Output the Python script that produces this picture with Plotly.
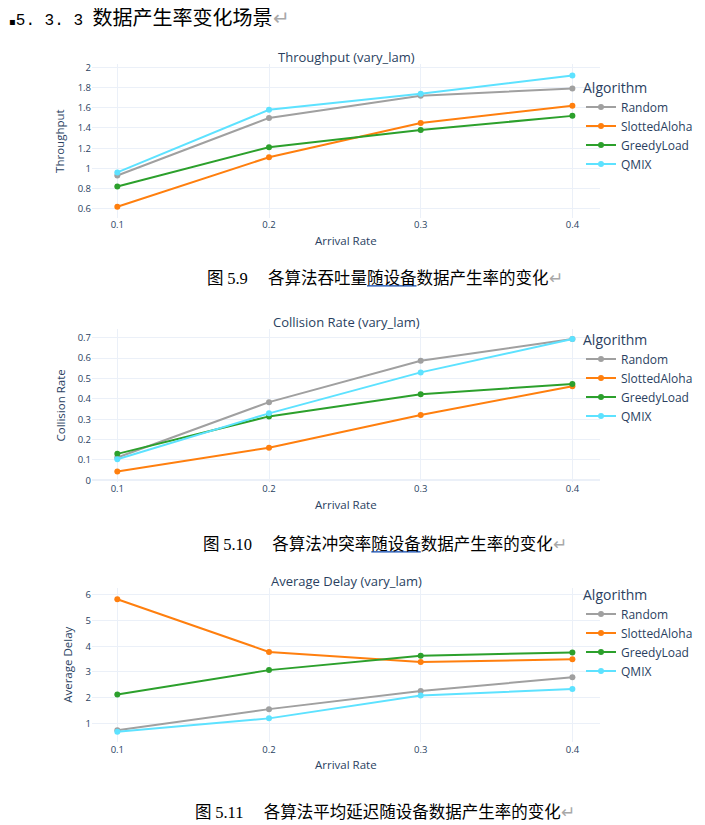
import plotly.graph_objects as go

# the page puts the plot 8px in from the top-left corner of the window
OFF = 8
W, H = 705 - OFF, 825 - OFF

arrival_rate = [0.1, 0.2, 0.3, 0.4]
algorithms = ["Random", "SlottedAloha", "GreedyLoad", "QMIX"]
algo_colors = ["#A0A0A0", "#FF7F0E", "#2CA02C", "#5DE2FF"]

# throughput per algorithm (same order as `algorithms`)
throughput_random = [0.93, 1.50, 1.72, 1.79]
throughput_slotted = [0.62, 1.11, 1.45, 1.62]
throughput_greedy = [0.82, 1.21, 1.38, 1.52]
throughput_qmix = [0.96, 1.58, 1.74, 1.92]

collision_random = [0.112, 0.384, 0.587, 0.694]
collision_slotted = [0.044, 0.160, 0.321, 0.462]
collision_greedy = [0.130, 0.314, 0.423, 0.473]
collision_qmix = [0.104, 0.329, 0.530, 0.694]

delay_random = [0.73, 1.55, 2.26, 2.79]
delay_slotted = [5.83, 3.78, 3.39, 3.49]
delay_greedy = [2.12, 3.07, 3.63, 3.76]
delay_qmix = [0.67, 1.19, 2.08, 2.33]

heading_num = "5. 3. 3 "
heading_cn = "数据产生率变化场景"
captions = [
    ("5.9", "各算法吞吐量", "随设备", "数据产生率的变化"),
    ("5.10", "各算法冲突率", "随设备", "数据产生率的变化"),
    ("5.11", "各算法平均延迟", "", "随设备数据产生率的变化"),
]

INK = "#2a3f5f"

# page geometry in window pixels: plot area top/bottom, legend top, caption y
panels = [
    dict(title="Throughput (vary_lam)", ytitle="Throughput",
         series=[throughput_random, throughput_slotted, throughput_greedy, throughput_qmix],
         top=61.7, bottom=216.7, yrange=[0.512, 2.032], dtick=0.2,
         ytitle_x=60, leg_top=72, cap_y=276.7),
    dict(title="Collision Rate (vary_lam)", ytitle="Collision Rate",
         series=[collision_random, collision_slotted, collision_greedy, collision_qmix],
         top=329.3, bottom=483.5, yrange=[-0.0073, 0.7423], dtick=0.1,
         ytitle_x=60, leg_top=326.5, cap_y=545),
    dict(title="Average Delay (vary_lam)", ytitle="Average Delay",
         series=[delay_random, delay_slotted, delay_greedy, delay_qmix],
         top=590.7, bottom=746.5, yrange=[0.259, 6.27], dtick=1,
         ytitle_x=66.7, leg_top=584, cap_y=815.7),
]
PLOT_L, PLOT_R = 92, 600
XRANGE = [0.0833, 0.4182]


def fx(p):
    return (p - OFF) / W


def fy(p):
    return 1 - (p - OFF) / H


fig = go.Figure()
annotations = []
layout = {}

for i, p in enumerate(panels):
    n = "" if i == 0 else str(i + 1)
    for name, vals, color in zip(algorithms, p["series"], algo_colors):
        fig.add_trace(go.Scatter(
            x=arrival_rate, y=vals, name=name, mode="lines+markers",
            line=dict(color=color, width=2), marker=dict(size=6, color=color),
            xaxis=f"x{n}", yaxis=f"y{n}", legend=f"legend{n}",
        ))
    layout[f"xaxis{n}"] = dict(
        domain=[fx(PLOT_L), fx(PLOT_R)], anchor=f"y{n}", range=XRANGE,
        tick0=0.1, dtick=0.1, tickformat=".1f", showgrid=True,
        gridcolor="#EBF0F8", zeroline=False, showline=False,
        tickfont=dict(size=9.5, color=INK),
    )
    layout[f"yaxis{n}"] = dict(
        domain=[fy(p["bottom"]), fy(p["top"])], anchor=f"x{n}", range=p["yrange"],
        dtick=p["dtick"], showgrid=True, gridcolor="#EBF0F8",
        zeroline=True, zerolinecolor="#EBF0F8", zerolinewidth=2, showline=False,
        tickfont=dict(size=9.5, color=INK),
    )
    layout[f"legend{n}"] = dict(
        x=fx(581), xanchor="left", y=fy(p["leg_top"]), yanchor="top",
        title=dict(text="Algorithm", font=dict(size=14, color=INK)),
        font=dict(size=12, color=INK), bgcolor="rgba(0,0,0,0)",
    )
    mid = (PLOT_L + PLOT_R) / 2
    annotations += [
        dict(text=p["title"], x=fx(mid), y=fy(p["top"] - 7.4), xref="paper", yref="paper",
             showarrow=False, xanchor="center", yanchor="middle",
             font=dict(size=13, color=INK)),
        dict(text="Arrival Rate", x=fx(mid), y=fy(p["bottom"] + 22.6), xref="paper", yref="paper",
             showarrow=False, xanchor="center", yanchor="middle",
             font=dict(size=11.5, color=INK)),
        dict(text=p["ytitle"], x=fx(p["ytitle_x"]), y=fy((p["top"] + p["bottom"]) / 2),
             xref="paper", yref="paper", showarrow=False, textangle=-90,
             xanchor="center", yanchor="middle", font=dict(size=11.5, color=INK)),
    ]
    num, pre, mark, post = captions[i]
    if mark:
        # blue underline (taken from the outer span), black glyphs (inner span)
        mark = ('<span style="text-decoration:underline;color:#4472C4">'
                f'<span style="color:#000000">{mark}</span></span>')
    cap = (f'图 <span style="font-family:Liberation Serif">{num}</span>　 '
           f'{pre}{mark}{post}<span style="color:#A8A8A8">↵</span>')
    annotations.append(dict(
        text=cap, x=fx(385), y=fy(p["cap_y"]), xref="paper", yref="paper",
        showarrow=False, xanchor="center", yanchor="middle",
        font=dict(family="Noto Sans CJK SC", size=16.5, color="#000000"),
    ))

annotations.append(dict(
    text=(f'<span style="font-family:DejaVu Sans;font-size:10px">▪</span>'
          f'<span style="font-family:Liberation Mono;font-size:16px">{heading_num}</span>'
          f'{heading_cn}<span style="color:#A8A8A8">↵</span>'),
    x=fx(OFF), y=fy(14), xref="paper", yref="paper", showarrow=False,
    xanchor="left", yanchor="middle", borderpad=0,
    font=dict(family="Noto Sans CJK SC", size=20, color="#000000"),
))

fig.update_layout(
    width=W, height=H, margin=dict(l=0, r=0, t=0, b=0),
    paper_bgcolor="white", plot_bgcolor="white",
    font=dict(family="Open Sans, sans-serif", color=INK),
    annotations=annotations, showlegend=True,
    **layout,
)

fig.write_html("out.html")
